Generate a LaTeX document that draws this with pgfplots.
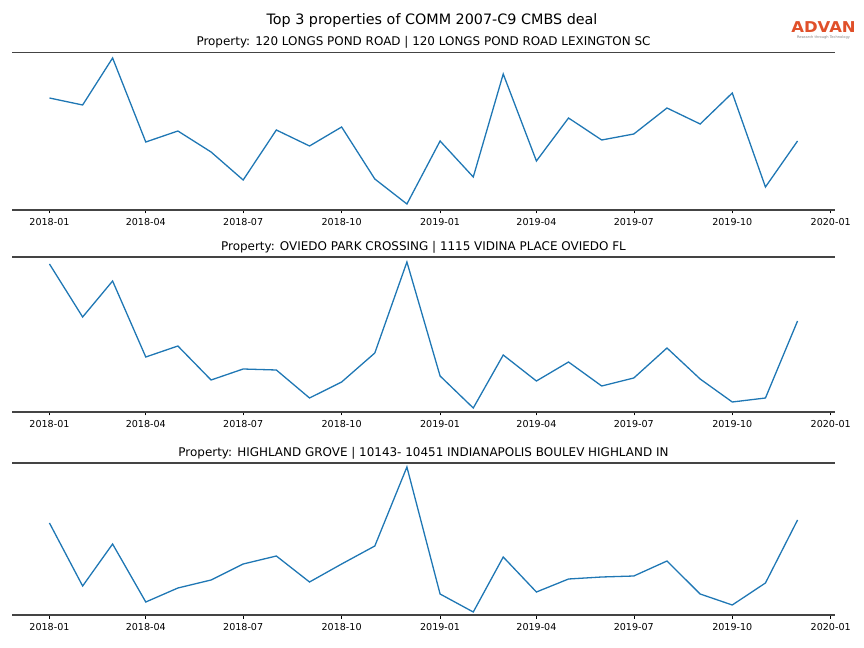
\documentclass[border=0pt]{standalone}
\usepackage{fontspec}
\setmainfont{DejaVu Sans}
\usepackage{pgfplots}
\usepackage{pgfplotstable}
\pgfplotsset{compat=1.18}

\definecolor{mplblue}{HTML}{1F77B4}
\definecolor{spine}{HTML}{444444}
\definecolor{advan}{HTML}{E0502A}

% day offset from 2018-01-01, value (picture units, larger = lower)
\pgfplotstableread{
d    a    b    c
0    98   264  523
31   105  317  586
59   58   281  544
90   142  357  602
120  131  346  588
151  152  380  580
181  180  369  564
212  130  370  556
243  146  398  582
273  127  382  564
304  179  353  546
334  204  262  467
365  141  376  594
396  177  408  612
424  74   355  557
455  161  381  592
485  118  362  579
516  140  386  577
546  134  378  576
577  108  348  561
608  124  379  594
638  93   402  605
669  187  398  583
699  141  321  520
}\props

\pgfplotsset{prop/.style={
  scale only axis, width=823bp, clip=false,
  xmin=-35, xmax=734, y dir=reverse,
  axis line style={draw=none},
  ytick=\empty,
  xtick={0,90,181,273,365,455,546,638,730},
  xticklabels={2018-01,2018-04,2018-07,2018-10,2019-01,2019-04,2019-07,2019-10,2020-01},
  xtick pos=bottom, tick align=outside, major tick length=3.5bp,
  tick style={black, line width=0.6bp},
  ticklabel style={font=\fontsize{9.6}{10}\selectfont},
  xticklabel style={yshift=-1.5bp},
  /pgf/number format/assume math mode=true,
  title style={font=\fontsize{12}{13}\selectfont, yshift=-6bp},
}}

\begin{document}
\begin{tikzpicture}
\path (0,0) rectangle (864bp,648bp);

\node[font=\fontsize{14.4}{16}\selectfont] at (432bp,627bp) {Top 3 properties of COMM 2007-C9 CMBS deal};
\node[text=advan, font=\fontsize{15}{16}\selectfont\bfseries, xscale=1.1] at (823.5bp,621bp) {ADVAN};
\node[text=gray, font=\fontsize{3.6}{4}\selectfont] at (823.5bp,610bp) {Research through Technology};

\begin{axis}[prop, at={(12bp,438bp)}, anchor=south west, height=158bp,
  ymin=52, ymax=210,
  title={Property: 120 LONGS POND ROAD | 120 LONGS POND ROAD LEXINGTON SC}]
\addplot[mplblue, line width=1.3bp] table[x=d, y=a] {\props};
\draw[spine, line width=0.8bp] (rel axis cs:0,1) -- (rel axis cs:1,1);
\draw[spine, line width=1.6bp] (rel axis cs:0,0) -- (rel axis cs:1,0);
\end{axis}

\begin{axis}[prop, at={(12bp,236bp)}, anchor=south west, height=155bp,
  ymin=257, ymax=412,
  title={Property: OVIEDO PARK CROSSING | 1115 VIDINA PLACE OVIEDO FL}]
\addplot[mplblue, line width=1.3bp] table[x=d, y=b] {\props};
\draw[spine, line width=1.6bp] (rel axis cs:0,1) -- (rel axis cs:1,1);
\draw[spine, line width=1.6bp] (rel axis cs:0,0) -- (rel axis cs:1,0);
\end{axis}

\begin{axis}[prop, at={(12bp,33bp)}, anchor=south west, height=152bp,
  ymin=463, ymax=615,
  title={Property: HIGHLAND GROVE | 10143- 10451 INDIANAPOLIS BOULEV HIGHLAND IN}]
\addplot[mplblue, line width=1.3bp] table[x=d, y=c] {\props};
\draw[spine, line width=1.6bp] (rel axis cs:0,1) -- (rel axis cs:1,1);
\draw[spine, line width=1.6bp] (rel axis cs:0,0) -- (rel axis cs:1,0);
\end{axis}
\end{tikzpicture}
\end{document}
